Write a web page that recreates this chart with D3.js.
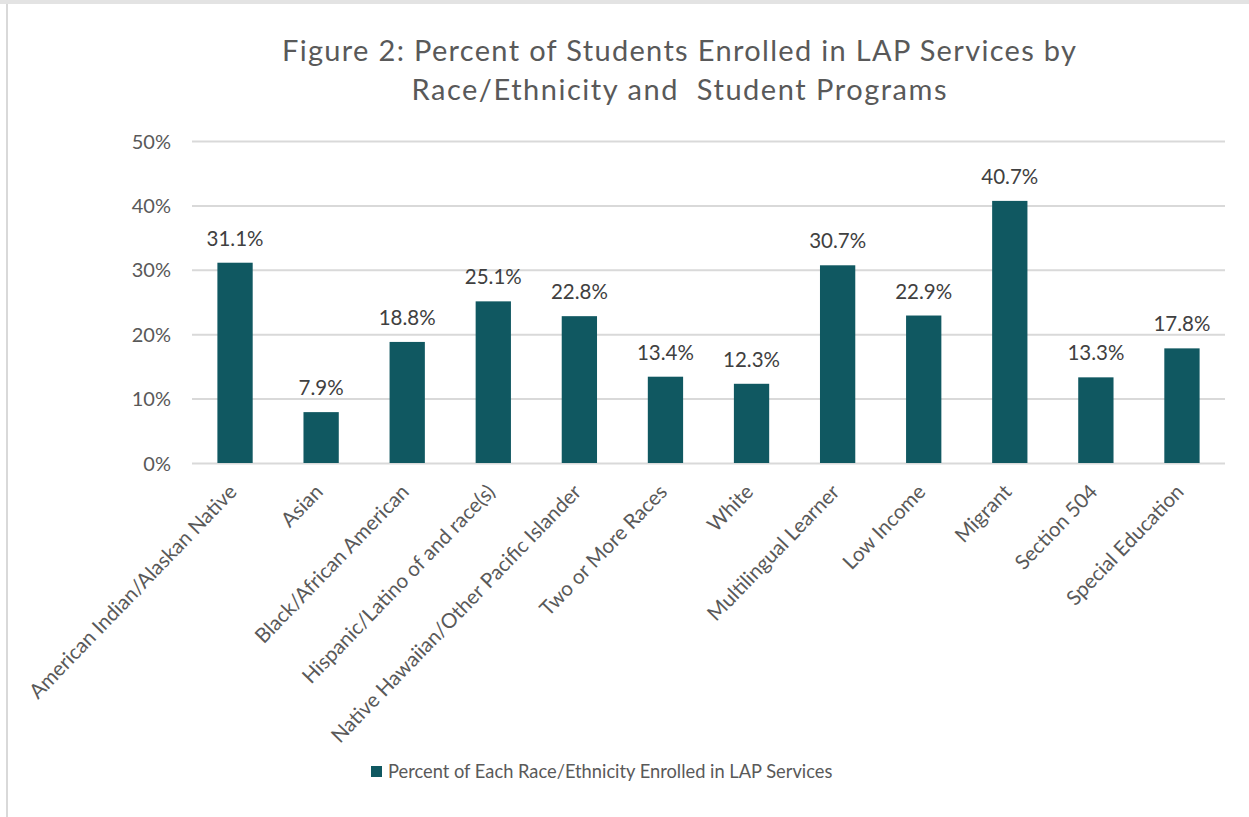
<!DOCTYPE html>
<html><head><meta charset="utf-8">
<script src="https://cdn.jsdelivr.net/npm/d3@7"></script>
<style>body{margin:0;background:#fff}svg{display:block}text{font-family:Lato,"Open Sans",sans-serif}</style>
</head><body><div id="chart"></div>
<script>
const categories = ["American Indian/Alaskan Native","Asian","Black/African American","Hispanic/Latino of and race(s)","Native Hawaiian/Other Pacific Islander","Two or More Races","White","Multilingual Learner","Low Income","Migrant","Section 504","Special Education"];
const values = [31.1,7.9,18.8,25.1,22.8,13.4,12.3,30.7,22.9,40.7,13.3,17.8];
const yTicks = [0,10,20,30,40,50];
const seriesName = "Percent of Each Race/Ethnicity Enrolled in LAP Services";
const titleLines = ["Figure 2: Percent of Students Enrolled in LAP Services by","Race/Ethnicity and  Student Programs"];
const titleWidths = [794,535];

const W=1249,H=817;
const svg=d3.select("#chart").append("svg").attr("width",W).attr("height",H);
// frame
svg.append("rect").attr("x",0).attr("y",0).attr("width",W).attr("height",4).attr("fill","#e3e3e3");
svg.append("line").attr("x1",7).attr("x2",7).attr("y1",4).attr("y2",H).attr("stroke","#d9d9d9").attr("stroke-width",2);

const m={left:192,right:1225,top:141,bottom:463};
const x=d3.scaleBand().domain(categories).range([m.left,m.right]).paddingInner(0.59).paddingOuter(0.295);
const y=d3.scaleLinear().domain([0,50]).range([m.bottom,m.top]);

// title
svg.append("g").selectAll("text").data(titleLines).join("text")
  .attr("x",679).attr("y",(d,i)=>61+i*39).attr("text-anchor","middle").attr("fill","#595959").attr("font-size",29)
  .attr("textLength",(d,i)=>titleWidths[i]).attr("lengthAdjust","spacing")
  .style("white-space","pre").text(d=>d);

// grid
const yAxis=d3.axisLeft(y).tickValues(yTicks).tickFormat(d=>d+"%").tickSize(-(m.right-m.left)).tickPadding(21);
const ga=svg.append("g").attr("transform",`translate(${m.left},0)`).call(yAxis);
ga.select(".domain").remove();
ga.selectAll(".tick line").attr("stroke","#d9d9d9").attr("stroke-width",2);
ga.selectAll(".tick text").attr("fill","#595959").attr("font-size",20).attr("font-family","Lato").attr("dy","0.35em");

// bars
svg.append("g").selectAll("rect").data(values).join("rect")
  .attr("x",(d,i)=>x(categories[i])).attr("width",x.bandwidth())
  .attr("y",d=>y(d)).attr("height",d=>y(0)-y(d)).attr("fill","#105861");

// data labels
svg.append("g").selectAll("text").data(values).join("text")
  .attr("x",(d,i)=>x(categories[i])+x.bandwidth()/2).attr("y",d=>y(d)-17)
  .attr("text-anchor","middle").attr("fill","#404040").attr("font-size",20.5).text(d=>d.toFixed(1)+"%");

// category labels
svg.append("g").selectAll("text").data(categories).join("text")
  .attr("transform",d=>`translate(${x(d)+x.bandwidth()/2+3},${m.bottom+30}) rotate(-46)`)
  .attr("text-anchor","end").attr("fill","#595959").attr("font-size",20.5).text(d=>d);

// legend
svg.append("rect").attr("x",371).attr("y",766).attr("width",11).attr("height",11).attr("fill","#105861");
svg.append("text").attr("x",388).attr("y",778).attr("fill","#595959").attr("font-size",18.3).text(seriesName);
</script></body></html>
